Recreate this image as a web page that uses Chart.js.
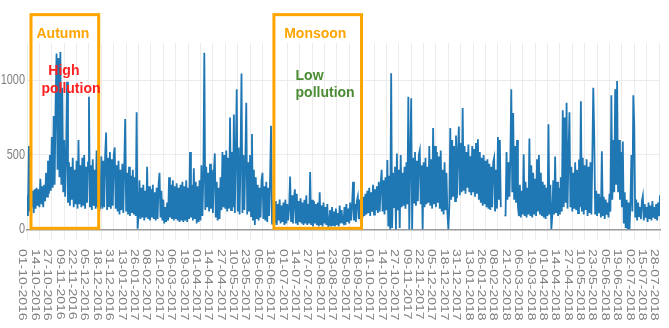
<!DOCTYPE html>
<html>
<head>
<meta charset="utf-8">
<script src="https://cdn.jsdelivr.net/npm/chart.js@4/dist/chart.umd.min.js"></script>
<style>
html,body{margin:0;padding:0;background:#fff;}
#wrap{width:669px;height:328px;}
</style>
</head>
<body>
<div id="wrap"><canvas id="c" width="669" height="328"></canvas></div>
<script>
// Tick labels on the date axis (one every 13 days)
const tickLabels = [
 "01-10-2016","14-10-2016","27-10-2016","09-11-2016","22-11-2016","05-12-2016","18-12-2016","31-12-2016",
 "13-01-2017","26-01-2017","08-02-2017","21-02-2017","06-03-2017","19-03-2017","01-04-2017","14-04-2017",
 "27-04-2017","10-05-2017","23-05-2017","05-06-2017","18-06-2017","01-07-2017","14-07-2017","27-07-2017",
 "10-08-2017","23-08-2017","05-09-2017","18-09-2017","01-10-2017","14-10-2017","27-10-2017","09-11-2017",
 "22-11-2017","05-12-2017","18-12-2017","31-12-2017","13-01-2018","26-01-2018","08-02-2018","21-02-2018",
 "06-03-2018","19-03-2018","01-04-2018","14-04-2018","27-04-2018","10-05-2018","23-05-2018","05-06-2018",
 "19-06-2018","02-07-2018","15-07-2018","28-07-2018"
];
const tickStep = 13;
const yTicks = [0, 500, 1000];

// Pollution readings, one value per day starting 01-10-2016
const pollution = [
 230,90,560,120,250,150,260,110,270,140,
 280,160,270,150,340,170,290,150,300,190,
 380,220,460,240,500,260,620,280,760,300,
 850,1180,400,1150,350,1190,300,950,250,600,
 220,500,990,180,450,160,420,200,480,150,
 400,170,460,140,600,170,430,150,480,160,
 500,140,420,180,450,890,150,430,130,470,
 160,400,140,530,150,420,130,160,490,140,
 460,150,500,650,130,480,150,520,140,470,
 160,500,550,140,430,120,460,100,400,130,
 440,110,420,740,120,380,100,420,90,360,
 110,400,100,350,90,785,5,90,330,70,
 280,80,300,60,260,80,420,70,290,60,
 270,80,300,70,250,60,280,70,300,380,
 80,260,60,200,40,150,50,180,60,350,
 80,300,70,330,60,290,70,310,60,280,
 50,300,60,320,50,290,60,330,50,280,
 70,520,80,300,60,410,70,320,40,290,
 50,330,60,430,90,350,1185,130,420,150,
 380,120,440,140,400,110,380,510,80,320,
 60,280,70,350,130,520,150,500,140,530,
 120,480,140,750,130,520,150,770,110,500,
 940,120,550,100,480,1045,110,500,130,460,
 850,100,450,120,500,90,640,60,400,30,
 350,70,300,60,280,80,330,380,70,290,
 60,320,50,280,90,350,695,40,200,20,
 50,190,30,170,60,200,40,160,50,180,
 30,200,40,170,60,150,355,50,230,40,
 200,270,40,240,30,190,50,210,40,180,
 30,200,40,230,30,170,40,385,30,200,
 20,190,40,170,30,180,20,250,30,160,
 20,180,40,150,30,170,20,30,130,20,
 150,30,120,20,140,30,110,20,160,40,
 130,50,40,150,30,170,50,140,40,180,
 60,160,320,60,170,50,190,220,70,200,
 60,180,80,220,90,240,100,260,110,280,
 90,250,120,300,100,270,130,290,110,320,
 120,300,400,120,330,100,350,130,465,20,
 360,0,1048,10,380,150,420,0,510,130,
 400,10,500,150,380,160,420,140,450,170,
 890,0,470,880,0,480,180,520,160,460,
 190,500,530,170,430,0,450,150,480,170,
 420,180,560,160,470,140,680,170,560,150,
 520,180,490,140,530,120,400,100,450,130,
 380,110,0,150,680,200,600,220,560,190,
 630,210,520,690,230,580,250,815,260,560,
 240,520,280,570,250,490,230,560,250,540,
 220,580,240,605,200,520,180,480,160,500,
 170,460,150,470,140,440,130,420,150,450,
 480,120,400,140,620,200,600,150,null,86,
 null,90,95,520,200,450,220,480,940,250,
 780,200,560,180,600,150,90,300,80,260,
 100,505,90,320,80,280,100,610,90,430,
 80,380,100,340,90,470,120,500,100,380,
 90,320,80,300,70,280,90,705,100,300,
 0,90,330,100,490,110,320,90,280,100,
 350,120,800,150,750,180,850,140,500,785,
 150,420,120,380,140,450,130,400,110,470,
 150,860,120,480,100,430,130,470,90,420,
 110,450,100,480,950,630,100,260,90,240,
 110,220,80,525,90,220,70,200,100,180,
 80,240,120,900,200,600,250,940,300,995,
 250,600,200,520,150,590,40,250,10,200,
 0,180,0,180,500,120,900,700,80,200,
 60,180,90,150,70,190,225,60,170,80,
 150,50,180,70,160,60,190,80,150,70,
 170,60,180,90,230
];

// Annotation texts
const seasonNames = ["Autumn", "Monsoon"];
const noteLines = [["High", "pollution"], ["Low", "pollution"]];

// Annotation placement (in axis units: day index / value)
const seasonBoxes = [
  {from: 4.2, to: 75.2, top: 1440, bottom: 8, labelX: 37.7, labelY: 1311},
  {from: 259, to: 350.9, top: 1440, bottom: 8, labelX: 302.4, labelY: 1311}
];
const notePlacement = [
  {color: '#FF2020', align: 'center', pos: [[38.7, 1064], [46.1, 938]]},
  {color: '#4B8C32', align: 'left',   pos: [[281.7, 1027], [281.7, 911]]}
];

const FONT = '"Liberation Sans", Arial, Helvetica, sans-serif';
const ORANGE = '#FFA500';

const overlay = {
  id: 'overlay',
  afterDraw(chart) {
    const ctx = chart.ctx;
    const xs = chart.scales.x, ys = chart.scales.y;
    const area = chart.chartArea;
    ctx.save();
    // x tick labels, rotated clockwise
    ctx.fillStyle = '#808080';
    ctx.font = '14px ' + FONT;
    ctx.textAlign = 'left';
    ctx.textBaseline = 'middle';
    tickLabels.forEach((t, k) => {
      const px = xs.getPixelForValue(k * tickStep) - 4.5;
      ctx.save();
      ctx.translate(px, area.bottom + 19.5);
      ctx.scale(0.8, 1);
      ctx.rotate(Math.PI / 2);
      ctx.fillText(t, 0, 0);
      ctx.restore();
    });
    // y tick labels
    ctx.textAlign = 'right';
    yTicks.forEach(v => {
      ctx.save();
      ctx.translate(area.left - 2, ys.getPixelForValue(v));
      ctx.scale(0.78, 1);
      ctx.fillText(String(v), 0, 0);
      ctx.restore();
    });
    // season boxes
    ctx.strokeStyle = ORANGE;
    ctx.lineWidth = 3;
    seasonBoxes.forEach((b, k) => {
      const x1 = xs.getPixelForValue(b.from), x2 = xs.getPixelForValue(b.to);
      const y1 = ys.getPixelForValue(b.top), y2 = ys.getPixelForValue(b.bottom);
      ctx.strokeRect(x1, y1, x2 - x1, y2 - y1);
      ctx.fillStyle = ORANGE;
      ctx.font = 'bold 14px ' + FONT;
      ctx.textAlign = 'center';
      ctx.textBaseline = 'middle';
      ctx.fillText(seasonNames[k], xs.getPixelForValue(b.labelX), ys.getPixelForValue(b.labelY));
    });
    // notes
    noteLines.forEach((lines, k) => {
      const p = notePlacement[k];
      ctx.fillStyle = p.color;
      ctx.font = 'bold 14px ' + FONT;
      ctx.textAlign = p.align;
      ctx.textBaseline = 'middle';
      lines.forEach((s, j) => {
        ctx.fillText(s, xs.getPixelForValue(p.pos[j][0]), ys.getPixelForValue(p.pos[j][1]));
      });
    });
    ctx.restore();
  }
};

new Chart(document.getElementById('c'), {
  type: 'line',
  data: {
    datasets: [{
      data: pollution.map((v, i) => ({x: i, y: v})),
      borderColor: '#1f77b4',
      borderWidth: 1.8,
      pointRadius: 0,
      tension: 0,
      spanGaps: false
    }]
  },
  options: {
    responsive: false,
    animation: false,
    layout: {padding: {top: 43, right: 9, left: 0, bottom: 0}},
    plugins: {legend: {display: false}, tooltip: {enabled: false}},
    scales: {
      x: {
        type: 'linear',
        min: 0,
        max: pollution.length - 1,
        afterBuildTicks: s => { s.ticks = tickLabels.map((_, k) => ({value: k * tickStep})); },
        ticks: {display: false},
        grid: {color: '#ececec', tickLength: 10, drawTicks: true},
        border: {color: '#9a9a9a', width: 1.5},
        afterFit: s => { s.height = 98.5; }
      },
      y: {
        min: 0,
        max: 1250,
        afterBuildTicks: s => { s.ticks = yTicks.map(v => ({value: v})); },
        ticks: {display: false},
        grid: {color: '#ebebeb', drawTicks: false},
        border: {display: false},
        afterFit: s => { s.width = 27; }
      }
    }
  },
  plugins: [overlay]
});
</script>
</body>
</html>
